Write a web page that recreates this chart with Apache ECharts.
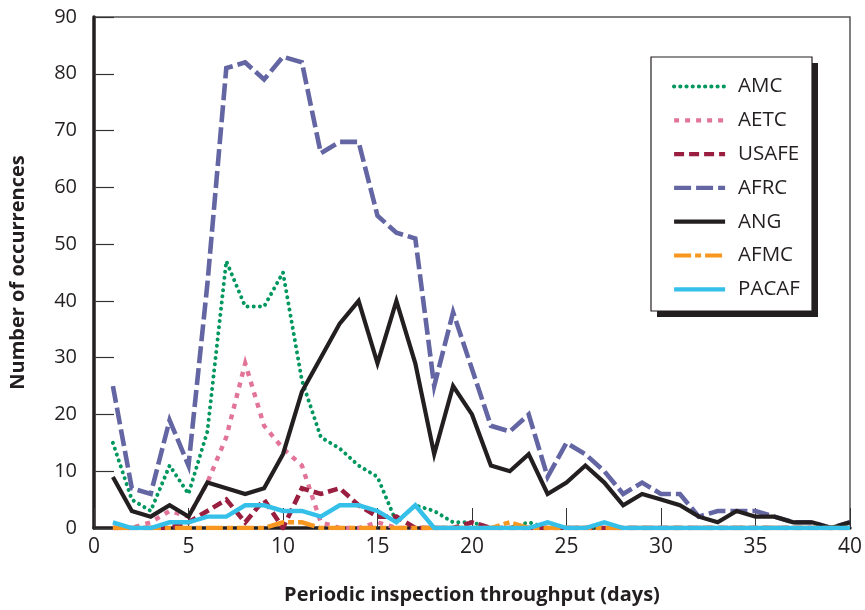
<!DOCTYPE html>
<html>
<head>
<meta charset="utf-8">
<script src="https://cdn.jsdelivr.net/npm/echarts@6/dist/echarts.min.js"></script>
<style>
html,body{margin:0;padding:0;background:#fff;}
#chart{width:865px;height:610px;}
</style>
</head>
<body>
<div id="chart"></div>
<script>
// Periodic inspection throughput (days)
var days = [1,2,3,4,5,6,7,8,9,10,11,12,13,14,15,16,17,18,19,20,21,22,23,24,25,26,27,28,29,30,31,32,33,34,35,36,37,38,39,40];
var AMC   = [15,5,3,11,6,17,47,39,39,45,26,16,14,11,9,1,4,3,1,1,0,0,1,0,0,0,0,0,0,0,0,0,0,0,0,0,0,0,0,0];
var AETC  = [0,0,1,3,2,8,16,29,18,14,11,1,0,0,1,0,0,0,0,0,0,0,0,0,0,0,0,0,0,0,0,0,0,0,0,0,0,0,0,0];
var USAFE = [0,0,0,0,1,3,5,1,5,0,7,6,7,4,2,2,0,0,0,1,0,0,0,0,0,0,0,0,0,0,0,0,0,0,0,0,0,0,0,0];
var AFRC  = [25,7,6,19,11,43,81,82,79,83,82,66,68,68,55,52,51,25,38,28,18,17,20,9,15,13,10,6,8,6,6,2,3,3,3,2,1,1,0,1];
var ANG   = [9,3,2,4,2,8,7,6,7,13,24,30,36,40,29,40,29,13,25,20,11,10,13,6,8,11,8,4,6,5,4,2,1,3,2,2,1,1,0,1];
var AFMC  = [0,0,0,0,0,0,0,0,0,1,1,0,0,0,0,0,0,0,0,0,0,1,0,0,0,0,0,0,0,0,0,0,0,0,0,0,0,0,0,0];
var PACAF = [1,0,0,1,1,2,2,4,4,3,3,2,4,4,3,1,4,0,0,0,0,0,0,1,0,0,1,0,0,0,0,0,0,0,0,0,0,0,0,0];
var yTicks = [0,10,20,30,40,50,60,70,80,90];
var xTicks = [0,5,10,15,20,25,30,35,40];

function pairs(vals){ return days.map(function(d,i){ return [d, vals[i]]; }); }

var FONT = '"Open Sans", "Noto Sans", sans-serif';
var TXT = '#231f20';

var seriesDefs = [
  {name:'AMC',   data:AMC,   color:'#00975f', width:4.0, type:[0.01,6.2], cap:'round'},
  {name:'AETC',  data:AETC,  color:'#e27497', width:4.4, type:[5,6],     cap:'butt'},
  {name:'USAFE', data:USAFE, color:'#9a1e3f', width:4.6, type:[10,5],    cap:'butt'},
  {name:'AFRC',  data:AFRC,  color:'#6366a3', width:4.6, type:[17,5],    cap:'butt'},
  {name:'ANG',   data:ANG,   color:'#231f20', width:4.2, type:'solid',   cap:'butt'},
  {name:'AFMC',  data:AFMC,  color:'#f8971f', width:4.4, type:[17,4,6,4], cap:'butt'},
  {name:'PACAF', data:PACAF, color:'#35c0ea', width:4.4, type:'solid',   cap:'butt'}
];

var chart = echarts.init(document.getElementById('chart'), null, {renderer:'canvas'});
var option = {
  animation:false,
  backgroundColor:'#fff',
  textStyle:{fontFamily:FONT, color:TXT},
  grid:{left:93, right:15, top:17, bottom:79, show:true, borderColor:'#555', borderWidth:1.5, backgroundColor:'transparent'},
  graphic:[
    {type:'rect', z:3, shape:{x:657, y:63, width:161, height:254}, style:{fill:'#231f20'}},
    {type:'rect', z:3, shape:{x:651, y:57, width:161, height:254}, style:{fill:'#fff', stroke:'#231f20', lineWidth:1.2}}
  ],
  legend:{
    orient:'vertical', left:672, top:76, z:5, padding:0,
    itemWidth:51, itemHeight:14, itemGap:12.8,
    itemStyle:{opacity:0},
    lineStyle:{width:4.2},
    textStyle:{fontFamily:FONT, fontSize:20.5, color:TXT, padding:[0,0,0,8]},
    data:seriesDefs.map(function(s){return s.name;})
  },
  xAxis:{
    type:'value', min:0, max:40, interval:5,
    name:'Periodic inspection throughput (days)', nameLocation:'middle', nameGap:57,
    nameTextStyle:{fontFamily:FONT, fontSize:20, fontWeight:'bold', color:TXT},
    axisLine:{show:true, onZero:false, lineStyle:{color:TXT, width:3.5}},
    axisTick:{show:true, inside:true, length:20, lineStyle:{color:'#333', width:1}},
    axisLabel:{fontFamily:FONT, fontSize:21, color:TXT, margin:9, formatter:function(v){return xTicks.indexOf(v)>=0?String(v):'';}},
    splitLine:{show:false}
  },
  yAxis:{
    type:'value', min:0, max:90, interval:10,
    name:'Number of occurrences', nameLocation:'middle', nameGap:66,
    nameTextStyle:{fontFamily:FONT, fontSize:20, fontWeight:'bold', color:TXT},
    axisLine:{show:true, lineStyle:{color:TXT, width:3.5}},
    axisTick:{show:true, inside:true, length:20, lineStyle:{color:'#333', width:1.2}},
    axisLabel:{fontFamily:FONT, fontSize:20, color:TXT, margin:17, formatter:function(v){return yTicks.indexOf(v)>=0?String(v):'';}},
    splitLine:{show:false}
  },
  series:seriesDefs.map(function(s){
    return {
      name:s.name, type:'line', data:pairs(s.data), symbol:'none', showSymbol:false,
      clip:true, z:2,
      itemStyle:{color:s.color},
      lineStyle:{color:s.color, width:s.width, type:s.type, cap:s.cap, join:'miter'},
      emphasis:{disabled:true}
    };
  })
};
chart.setOption(option);
</script>
</body>
</html>
